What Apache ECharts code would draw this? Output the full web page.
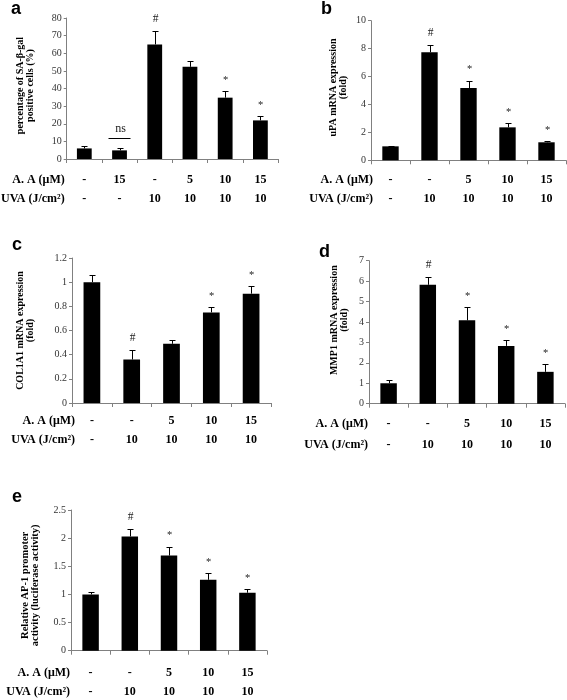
<!DOCTYPE html>
<html><head><meta charset="utf-8">
<script src="https://cdn.jsdelivr.net/npm/echarts@6/dist/echarts.min.js"></script>
<style>html,body{margin:0;padding:0;background:#fff}#c{width:567px;height:700px}</style>
</head><body><div id="c"></div>
<script>
// ---- Panel a ----
const aaA = ['-', '15', '-', '5', '10', '15'];
const uvaA = ['-', '-', '10', '10', '10', '10'];
const valA = [6.0, 4.9, 65.0, 52.3, 34.8, 21.9];
const errA = [1.6, 1.6, 7.6, 3.3, 3.6, 2.3];
const markA = ['', 'ns', '#', '', '*', '*'];
const titleA = 'percentage of SA-β-gal\npositive cells (%)';
// ---- Panel b ----
const aaB = ['-', '-', '5', '10', '15'];
const uvaB = ['-', '10', '10', '10', '10'];
const valB = [1.0, 7.74, 5.18, 2.36, 1.29];
const errB = [0.05, 0.5, 0.52, 0.28, 0.07];
const markB = ['', '#', '*', '*', '*'];
const titleB = 'uPA mRNA expression\n(fold)';
// ---- Panel c ----
const aaC = ['-', '-', '5', '10', '15'];
const uvaC = ['-', '10', '10', '10', '10'];
const valC = [1.0, 0.36, 0.49, 0.75, 0.905];
const errC = [0.06, 0.08, 0.035, 0.045, 0.06];
const markC = ['', '#', '', '*', '*'];
const titleC = 'COL1A1 mRNA expression\n(fold)';
// ---- Panel d ----
const aaD = ['-', '-', '5', '10', '15'];
const uvaD = ['-', '10', '10', '10', '10'];
const valD = [1.0, 5.82, 4.08, 2.83, 1.56];
const errD = [0.17, 0.4, 0.64, 0.29, 0.38];
const markD = ['', '#', '*', '*', '*'];
const titleD = 'MMP1 mRNA expression\n(fold)';
// ---- Panel e ----
const aaE = ['-', '-', '5', '10', '15'];
const uvaE = ['-', '10', '10', '10', '10'];
const valE = [1.0, 2.03, 1.69, 1.26, 1.03];
const errE = [0.04, 0.14, 0.16, 0.12, 0.06];
const markE = ['', '#', '*', '*', '*'];
const titleE = 'Relative AP-1 promoter\nactivity (luciferase activity)';
// row labels
const rowLabelAA = 'A. A (μM)';
const rowLabelUVA = 'UVA (J/cm²)';
// y-axis scales [min, max, interval]
const scaleA = [0, 80, 10];
const scaleB = [0, 10, 2];
const scaleC = [0, 1.2, 0.2];
const scaleD = [0, 7, 1];
const scaleE = [0, 2.5, 0.5];

const SERIF = '"Liberation Serif", "Times New Roman", serif';

const panels = [
  {letter:'a', title:titleA, aa:aaA, uva:uvaA, val:valA, err:errA, mark:markA, scale:scaleA,
   layout:{grid:{left:62, top:18, width:216, height:141}, rows:[21,40], rowGap:2, nameGap:31, namePad:[0,0,0,6], titleSize:10, letter:[11,8.8]}},
  {letter:'b', title:titleB, aa:aaB, uva:uvaB, val:valB, err:errB, mark:markB, scale:scaleB,
   layout:{grid:{left:371, top:20.7, width:195, height:139.6}, rows:[19.7,39], rowGap:-2, nameGap:23, namePad:[0,0,0,6], titleSize:10, letter:[321,8.8]}},
  {letter:'c', title:titleC, aa:aaC, uva:uvaC, val:valC, err:errC, mark:markC, scale:scaleC,
   layout:{grid:{left:72, top:258, width:199, height:145}, rows:[17.7,37], rowGap:-3, nameGap:37, namePad:[0,0,0,0], titleSize:10, letter:[12,244.8]}},
  {letter:'d', title:titleD, aa:aaD, uva:uvaD, val:valD, err:errD, mark:markD, scale:scaleD,
   layout:{grid:{left:369, top:260.7, width:196, height:143}, rows:[20.6,41.3], rowGap:1, nameGap:20, namePad:[0,0,0,24], titleSize:10, letter:[319,251.8]}},
  {letter:'e', title:titleE, aa:aaE, uva:uvaE, val:valE, err:errE, mark:markE, scale:scaleE,
   layout:{grid:{left:71, top:510, width:196, height:140.7}, rows:[22.6,41.6], rowGap:1, nameGap:31, namePad:[0,10,0,0], titleSize:10.5, letter:[12,497]}}
];

const grids = [], xAxes = [], yAxes = [], series = [], graphics = [];
panels.forEach((p, k) => {
  const L = p.layout;
  const cats = p.val.map((_, i) => 'g' + i);
  grids.push(Object.assign({containLabel:false}, L.grid));
  // main category axis
  xAxes.push({type:'category', gridIndex:k, data:cats, boundaryGap:true,
    axisLine:{lineStyle:{color:'#808080', width:1}},
    axisTick:{show:true, length:4, lineStyle:{color:'#808080'}},
    axisLabel:{show:false}, splitLine:{show:false}});
  // table rows
  [[p.aa, rowLabelAA, L.rows[0]], [p.uva, rowLabelUVA, L.rows[1]]].forEach(([row, name, off]) => {
    xAxes.push({type:'category', gridIndex:k, data:cats, position:'bottom', offset:off, boundaryGap:true,
      axisLine:{show:false}, axisTick:{show:false}, splitLine:{show:false},
      name:name, nameLocation:'start', nameGap:L.rowGap,
      nameTextStyle:{fontFamily:SERIF, fontWeight:'bold', fontSize:12, color:'#000', align:'right', verticalAlign:'middle'},
      axisLabel:{show:true, margin:0, verticalAlign:'middle', interval:0,
        fontFamily:SERIF, fontWeight:'bold', fontSize:12, color:'#000',
        formatter:(v, i) => row[i]}});
  });
  yAxes.push({type:'value', gridIndex:k, min:p.scale[0], max:p.scale[1], interval:p.scale[2],
    axisLine:{show:true, lineStyle:{color:'#808080', width:1}},
    axisTick:{show:true, length:3, lineStyle:{color:'#808080'}},
    splitLine:{show:false},
    axisLabel:{margin:5, fontFamily:SERIF, fontSize:10, color:'#333'},
    name:p.title, nameLocation:'middle', nameRotate:90, nameGap:L.nameGap, nameMoveOverlap:false,
    nameTextStyle:{fontFamily:SERIF, fontWeight:'bold', fontSize:L.titleSize, lineHeight:10, color:'#000', padding:L.namePad}});
  series.push({type:'bar', xAxisIndex:3*k, yAxisIndex:k, data:p.val, barWidth:'42%',
    itemStyle:{color:'#000'}, silent:true, animation:false});
  const marks = p.mark;
  series.push({type:'custom', xAxisIndex:3*k, yAxisIndex:k, silent:true, animation:false, z:3,
    data:p.val.map((v, i) => [i, v, v + p.err[i]]),
    encode:{x:0, y:[1,2]},
    renderItem:(params, api) => {
      const i = api.value(0), v = api.value(1), t = api.value(2);
      const p0 = api.coord([i, v]), p1 = api.coord([i, t]);
      const x = Math.round(p0[0]) + 0.5, yT = Math.round(p1[1]) + 0.5;
      const ch = [
        {type:'line', shape:{x1:x, y1:p0[1], x2:x, y2:yT}, style:{stroke:'#000', lineWidth:1}},
        {type:'line', shape:{x1:x-3, y1:yT, x2:x+3, y2:yT}, style:{stroke:'#000', lineWidth:1}}
      ];
      const m = marks[params.dataIndex];
      if (m === 'ns') {
        const yl = Math.round(p1[1] - 10) + 0.5;
        ch.push({type:'line', shape:{x1:x-12, y1:yl, x2:x+10, y2:yl}, style:{stroke:'#000', lineWidth:1}});
        ch.push({type:'text', style:{text:'ns', x:x, y:p1[1]-19, align:'center', verticalAlign:'middle',
          fontFamily:SERIF, fontSize:12, fill:'#222'}});
      } else if (m) {
        ch.push({type:'text', style:{text:m, x:x, y:p1[1] - (m === '*' ? 11 : 12), align:'center', verticalAlign:'middle',
          fontFamily:SERIF, fontSize:(m === '#' ? 11.5 : 10.5), fill:'#222'}});
      }
      return {type:'group', children:ch};
    }});
  graphics.push({type:'text', left:L.letter[0], top:L.letter[1] - 9,
    style:{text:p.letter, fontFamily:'"Liberation Sans", Arial, sans-serif', fontWeight:'bold', fontSize:18, fill:'#000'}});
});

const chart = echarts.init(document.getElementById('c'), null, {renderer:'canvas'});
chart.setOption({
  animation:false,
  backgroundColor:'#fff',
  grid:grids, xAxis:xAxes, yAxis:yAxes, series:series, graphic:graphics
});
</script>
</body></html>
